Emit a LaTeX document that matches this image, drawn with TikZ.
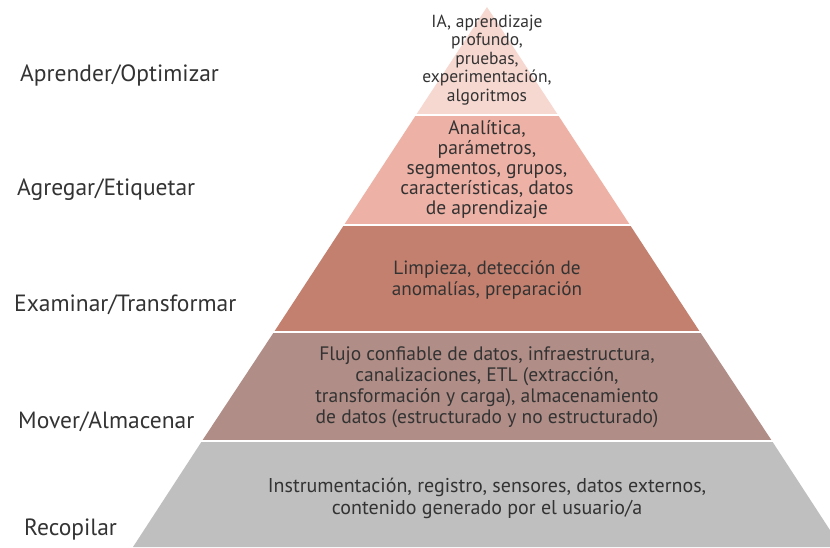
\documentclass[tikz,border=0pt]{standalone}
\usepackage{fontspec}
\setmainfont{PT Sans}
\usepackage{xcolor}
\usepackage{tikz}

\definecolor{capaUno}{HTML}{F6D8D0}
\definecolor{capaDos}{HTML}{EEB1A5}
\definecolor{capaTres}{HTML}{C3806F}
\definecolor{capaCuatro}{HTML}{B08D86}
\definecolor{capaCinco}{HTML}{BFBFBF}
\definecolor{textoGris}{HTML}{333333}

\begin{document}
\begin{tikzpicture}
            [
                x=1pt, y=-1pt,
                text=textoGris
            ]
            \tikzset{
                corte/.style = {draw=white, line width=2pt},
                capatexto/.style = {align=center, inner sep=0pt, font=\fontsize{17.5}{18.5}\selectfont},
                etapa/.style = {anchor=west, inner sep=0pt, font=\fontsize{23.5}{26}\selectfont}
            }
            \clip (0,0) rectangle (830,547);
            \fill[white] (0,0) rectangle (830,547);
            % capas de la piramide
            \fill[capaUno] (487,7) -- (558,115) -- (416,115) -- cycle;
            \fill[capaDos] (416,115) -- (558,115) -- (630,225) -- (344,225) -- cycle;
            \fill[capaTres] (344,225) -- (630,225) -- (700,332) -- (274,332) -- cycle;
            \fill[capaCuatro] (274,332) -- (700,332) -- (772,441) -- (202,441) -- cycle;
            \fill[capaCinco] (202,441) -- (772,441) -- (841,547) -- (133,547) -- cycle;
            \draw[corte] (400,115) -- (575,115);
            \draw[corte] (330,225) -- (645,225);
            \draw[corte] (260,332) -- (715,332);
            \draw[corte] (190,441) -- (785,441);
            % textos de las capas
            \node[capatexto] (IA) at (487,60) {IA, aprendizaje\\profundo,\\pruebas,\\experimentación,\\algoritmos};
            \node[capatexto, font=\fontsize{19.5}{20}\selectfont] (analitica) at (487,170) {Analítica,\\parámetros,\\segmentos, grupos,\\características, datos\\de aprendizaje};
            \node[capatexto, font=\fontsize{19.2}{21}\selectfont] (limpieza) at (487,280) {Limpieza, detección de\\anomalías, preparación};
            \node[capatexto, font=\fontsize{19.5}{21}\selectfont] (flujo) at (487,387) {Flujo confiable de datos, infraestructura,\\canalizaciones, ETL (extracción,\\transformación y carga), almacenamiento\\de datos (estructurado y no estructurado)};
            \node[capatexto, font=\fontsize{20}{22}\selectfont] (instrumentacion) at (487,498) {Instrumentación, registro, sensores, datos externos,\\contenido generado por el usuario/a};
            % etapas
            \node[etapa] (aprender) at (20,75) {Aprender/Optimizar};
            \node[etapa] (agregar) at (17,190) {Agregar/Etiquetar};
            \node[etapa] (examinar) at (14,305) {Examinar/Transformar};
            \node[etapa] (mover) at (18,422) {Mover/Almacenar};
            \node[etapa] (recopilar) at (24,530) {Recopilar};
\end{tikzpicture}
\end{document}
